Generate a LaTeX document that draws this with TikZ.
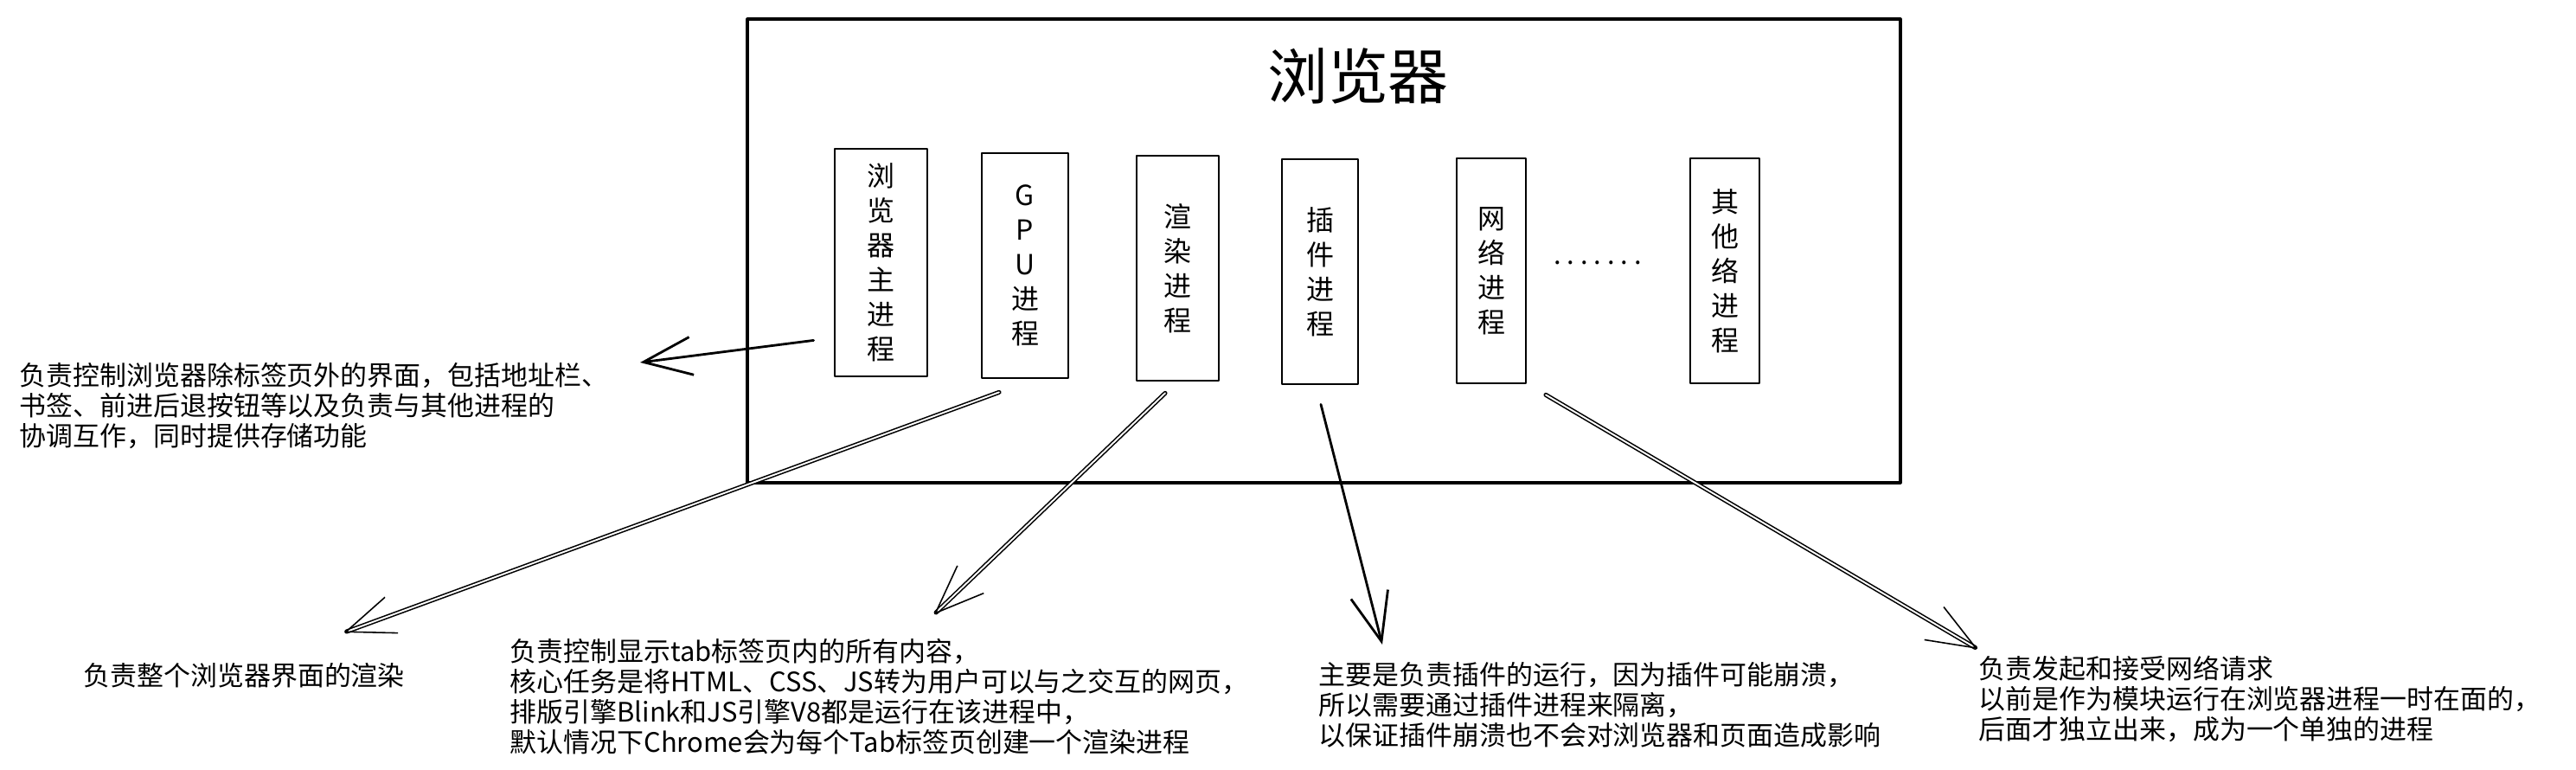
\documentclass[tikz,border=0pt]{standalone}
\usepackage{fontspec}
\newfontfamily\cjk{Noto Sans CJK SC}
\usetikzlibrary{arrows.meta}
\begin{document}
\begin{tikzpicture}[line join=round,line cap=round,
    font=\cjk\fontsize{8.8}{10}\selectfont,
    >={Straight Barb[length=0.56cm,width=0.44cm]},
    proc/.style={draw,line width=0.8pt,minimum height=2.6cm,inner sep=0pt,
      align=center,font=\cjk\fontsize{9.1}{11.4}\selectfont},
    desc/.style={anchor=west,align=left,inner sep=0pt},
    arr/.style={->,line width=0.8pt},
    rough/.style={->,line width=0.45pt,double,double distance=0.55pt}]
  \useasboundingbox (0,0) rectangle (29.78,-8.90);
  % the browser
  \node[draw,line width=0.9pt,minimum width=13.33cm,minimum height=5.36cm]
    (B) at (15.305,-2.90) {};
  \node[font=\cjk\fontsize{19.9}{24}\selectfont] (N) at (15.70,-0.88) {浏览器};
  % the processes
  \node[proc,minimum width=1.07cm,minimum height=2.63cm] (P1) at (10.185,-3.035)
    {浏\\览\\器\\主\\进\\程};
  \node[proc,minimum width=1.00cm] (P2) at (11.85,-3.07) {G\\P\\U\\进\\程};
  \node[proc,minimum width=0.95cm] (P3) at (13.615,-3.10) {渲\\染\\进\\程};
  \node[proc,minimum width=0.88cm] (P4) at (15.26,-3.14) {插\\件\\进\\程};
  \node[proc,minimum width=0.80cm] (P5) at (17.24,-3.13) {网\\络\\进\\程};
  \node[proc,minimum width=0.80cm] (P6) at (19.94,-3.13) {其\\他\\络\\进\\程};
  \node[inner sep=0pt] (D) at (18.47,-3.04) {.\ .\ .\ .\ .\ .\ .};
  % what each one does
  \node[desc] (T1) at (0.22,-4.69)
    {负责控制浏览器除标签页外的界面，包括地址栏、\\
     书签、前进后退按钮等以及负责与其他进程的\\
     协调互作，同时提供存储功能};
  \node[desc] (T2) at (0.96,-7.81) {负责整个浏览器界面的渲染};
  \node[desc] (T3) at (5.89,-8.05)
    {负责控制显示tab标签页内的所有内容，\\
     核心任务是将HTML、CSS、JS转为用户可以与之交互的网页，\\
     排版引擎Blink和JS引擎V8都是运行在该进程中，\\
     默认情况下Chrome会为每个Tab标签页创建一个渲染进程};
  \node[desc] (T4) at (15.24,-8.15)
    {主要是负责插件的运行，因为插件可能崩溃，\\
     所以需要通过插件进程来隔离，\\
     以保证插件崩溃也不会对浏览器和页面造成影响};
  \node[desc] (T5) at (22.87,-8.08)
    {负责发起和接受网络请求\\
     以前是作为模块运行在浏览器进程一时在面的，\\
     后面才独立出来，成为一个单独的进程};
  % arrow ends
  \path ([shift={(-0.23,0.43)}]P1.south west) coordinate (s1)
    ([shift={(-0.30,-0.15)}]P2.south) coordinate (s2)
    ([shift={(-0.145,-0.13)}]P3.south) coordinate (s3)
    ([shift={(0.01,-0.22)}]P4.south) coordinate (s4)
    ([shift={(0.63,-0.12)}]P5.south) coordinate (s5)
    (7.40,-4.19) coordinate (t1)
    (3.98,-7.31) coordinate (t2)
    (10.80,-7.10) coordinate (t3)
    (15.98,-7.45) coordinate (t4)
    (22.86,-7.50) coordinate (t5);
  \draw[arr] (s1)--(t1);
  \draw[rough] (s2)--(t2);
  \draw[rough] (s3)--(t3);
  \draw[arr] (s4)--(t4);
  \draw[rough] (s5)--(t5);
\end{tikzpicture}
\end{document}
